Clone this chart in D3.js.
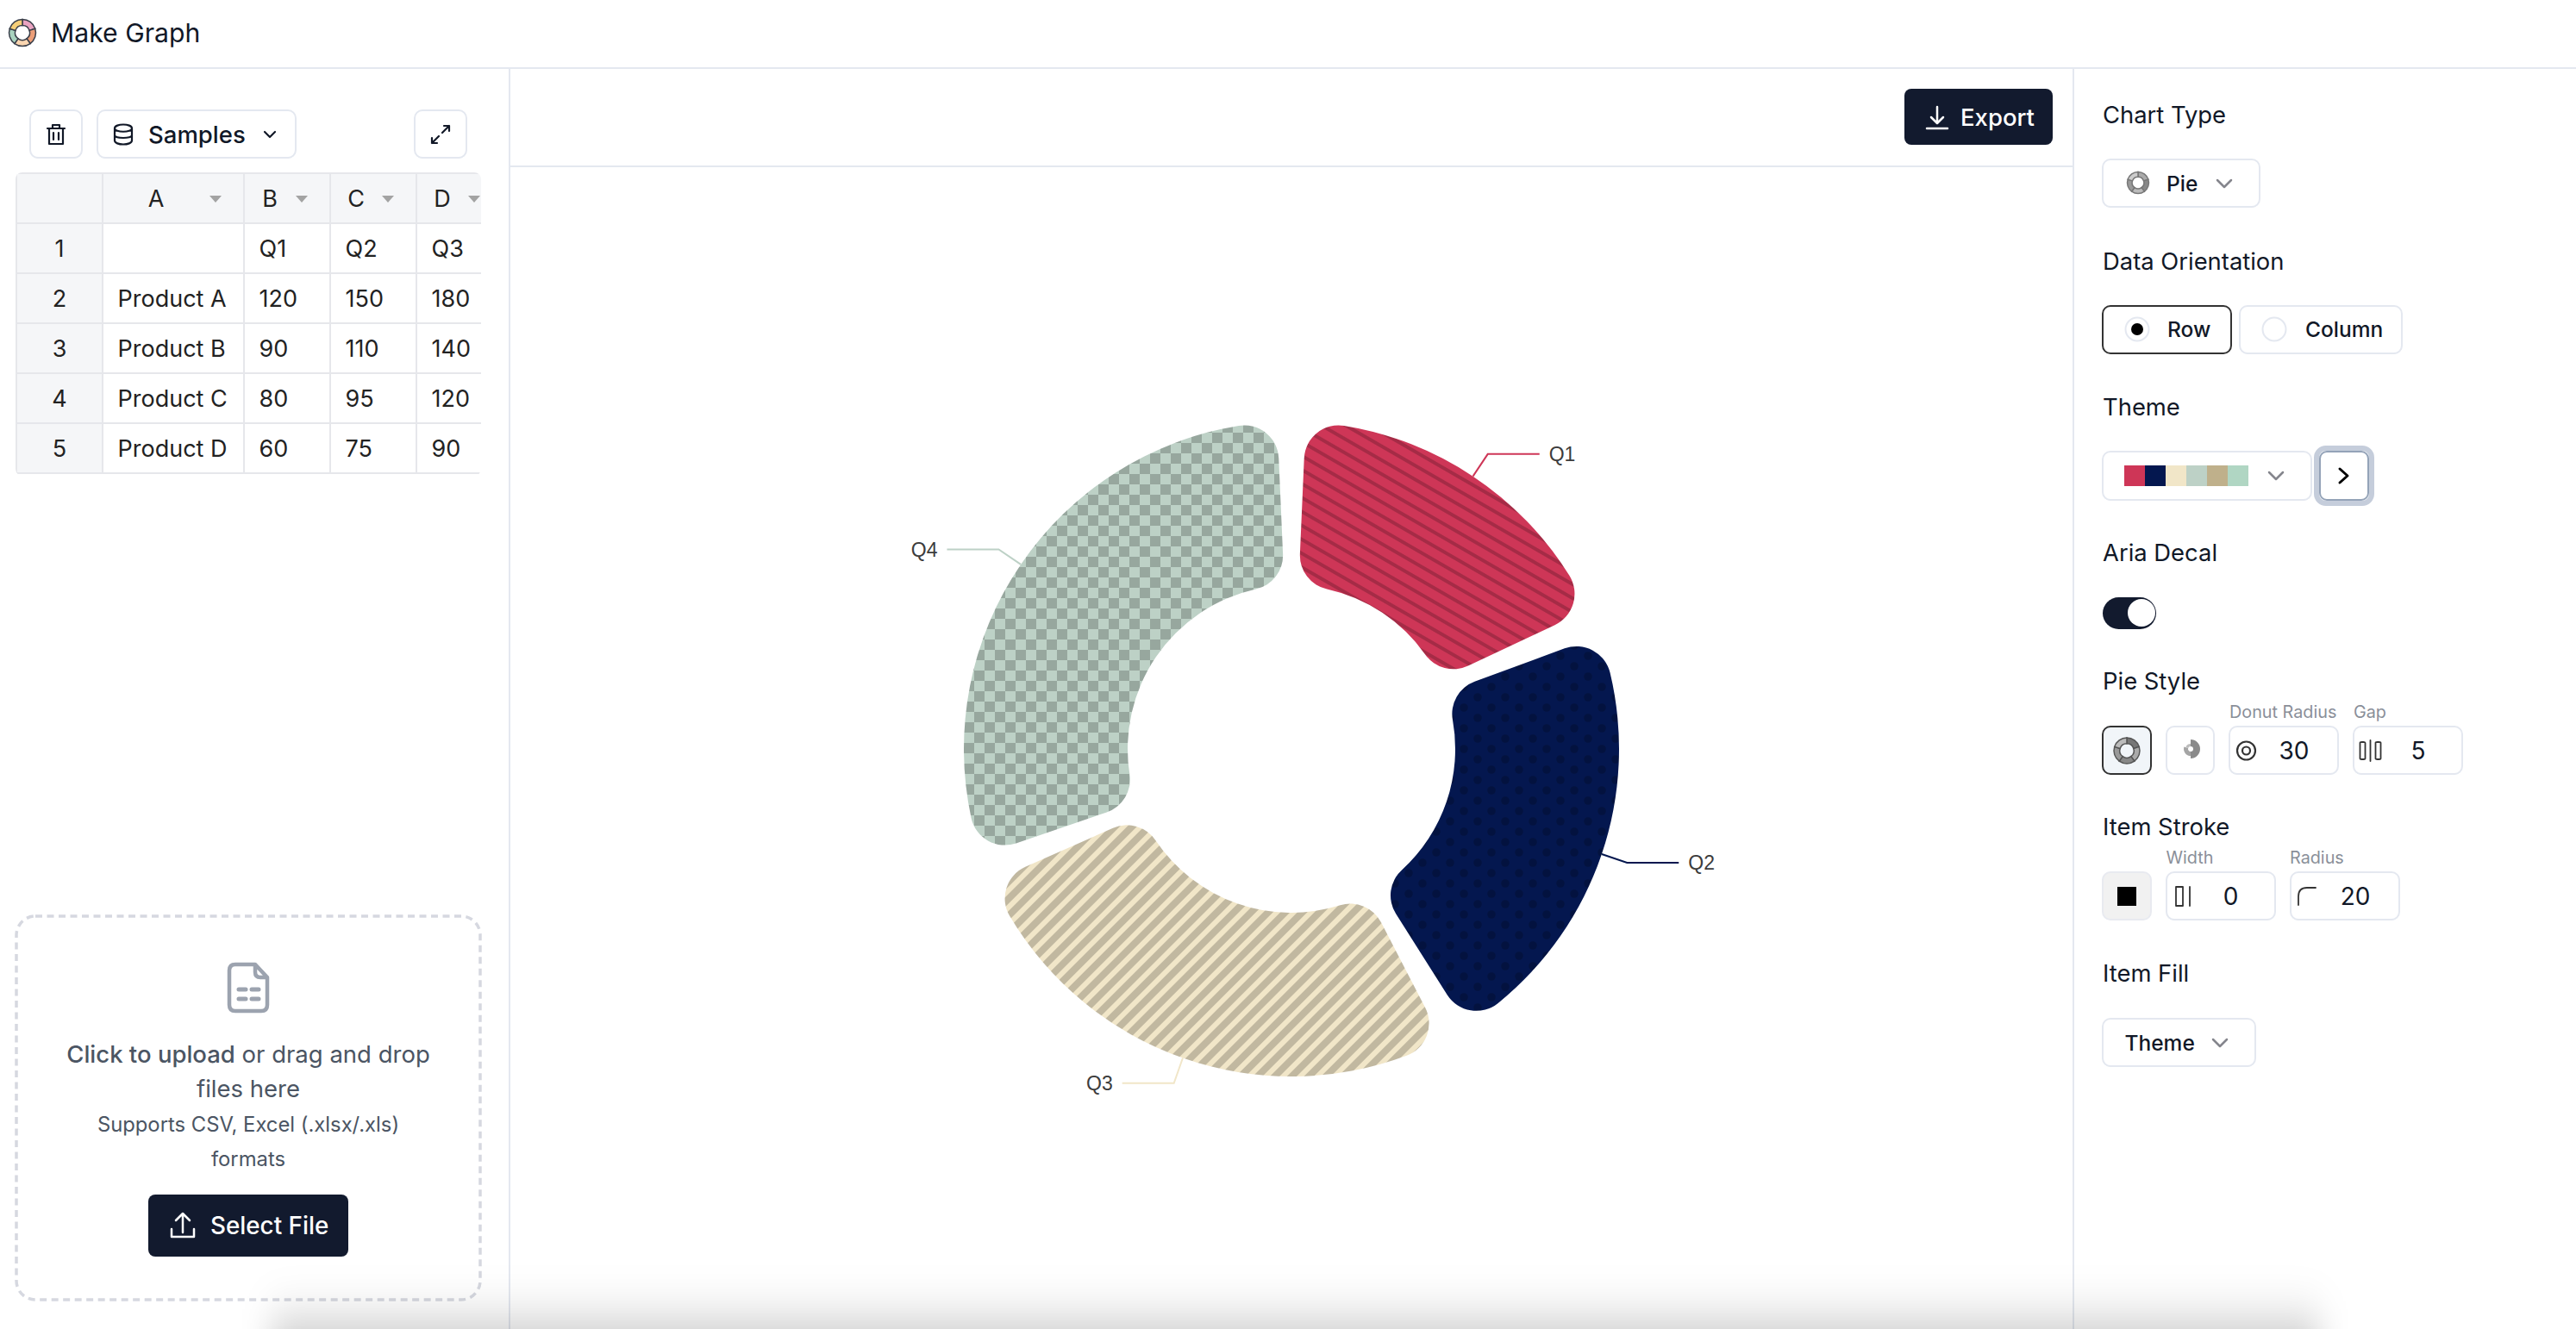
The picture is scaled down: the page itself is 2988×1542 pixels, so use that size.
<!DOCTYPE html>
<html>
<head>
<meta charset="utf-8">
<title>Make Graph</title>
<script src="https://cdn.jsdelivr.net/npm/d3@7/dist/d3.min.js"></script>
<style>
  html, body { margin: 0; padding: 0; background: #fff; overflow: hidden; }
  svg { display: block; font-family: Inter, "Noto Sans", sans-serif; }
</style>
</head>
<body>
<svg id="page" width="2988" height="1542"></svg>
<script>
// chart values
const quarters = ['Q1', 'Q2', 'Q3', 'Q4'];
const productA = [120, 150, 180, 205];
const sliceColors = ['#ce3657', '#04174f', '#f1e6c8', '#bdd1c6'];
const themeSwatches = ['#ce3657', '#04174f', '#f1e6c8', '#bdd1c6', '#bfb08b', '#b0d6c3'];

// sheet values
const sheetColumns = ['A', 'B', 'C', 'D'];
const sheetRows = [
  ['', 'Q1', 'Q2', 'Q3'],
  ['Product A', '120', '150', '180'],
  ['Product B', '90', '110', '140'],
  ['Product C', '80', '95', '120'],
  ['Product D', '60', '75', '90']
];

const INK = '#111827';
const DARK = '#121a2e';
const LINE = '#e4e8f0';

const svg = d3.select('#page');
const defs = svg.append('defs');

function rect(x0, y0, x1, y1, opts = {}) {
  return svg.append('rect')
    .attr('x', x0).attr('y', y0)
    .attr('width', x1 - x0).attr('height', y1 - y0)
    .attr('rx', opts.r || 0)
    .attr('fill', opts.fill || 'none')
    .attr('stroke', opts.stroke || 'none')
    .attr('stroke-width', opts.sw || 2);
}

function text(str, x, y, size, opts = {}) {
  return svg.append('text')
    .attr('x', x).attr('y', y)
    .attr('dy', '0.36em')
    .attr('font-size', size)
    .attr('font-weight', opts.weight || 400)
    .attr('fill', opts.fill || INK)
    .attr('text-anchor', opts.anchor || 'start')
    .attr('font-family', opts.family || null)
    .text(str);
}

function icon(d, x, y, opts = {}) {
  return svg.append('path')
    .attr('transform', `translate(${x},${y})`)
    .attr('d', d)
    .attr('fill', opts.fill || 'none')
    .attr('stroke', opts.stroke || INK)
    .attr('stroke-width', opts.sw || 2.5)
    .attr('stroke-linecap', 'round')
    .attr('stroke-linejoin', 'round');
}

function field(x0, y0, x1, y1) {
  rect(x0, y0 + 1, x1, y1 + 1, { r: 9, fill: '#e9edf4' });
  return rect(x0, y0, x1, y1, { r: 9, fill: '#fff', stroke: LINE });
}

const chevronDown = 'M-8,-4 L0,4 L8,-4';

function ringIcon(cx, cy, r, colors, stroke) {
  const g = svg.append('g').attr('transform', `translate(${cx},${cy})`);
  const arc = d3.arc().innerRadius(r * 0.55).outerRadius(r);
  const slices = d3.pie().sort(null).value(1)(colors);
  g.selectAll('path').data(slices).join('path')
    .attr('d', arc)
    .attr('fill', d => d.data)
    .attr('stroke', stroke)
    .attr('stroke-width', 1.5);
}

// ---- frame ----
rect(0, 78, 2988, 80, { fill: LINE });
rect(590, 80, 592, 1542, { fill: LINE });
rect(2404, 80, 2406, 1542, { fill: LINE });
rect(592, 192, 2404, 194, { fill: LINE });

ringIcon(26, 38, 15.5, ['#e9a3c0', '#ec9e78', '#f9d5b0', '#a9d3bf', '#f5ce78'], '#3a3f4a');
text('Make Graph', 59, 38, 30.2);

// ---- left toolbar ----
field(35, 128, 95, 183);
icon('M-10,-7 H10 M-4,-7 V-11 H4 V-7 M-8,-7 V11 H8 V-7 M-3,-2 V6 M3,-2 V6', 65, 156, { sw: 2.2 });
field(113, 128, 343, 183);
icon('M-10,-7 C-10,-13 10,-13 10,-7 V7 C10,13 -10,13 -10,7 Z M-10,-7 C-10,-2 10,-2 10,-7 M-10,1 C-10,5 10,5 10,1', 143, 156, { sw: 2.2 });
text('Samples', 172, 156, 27.5, { weight: 500 });
icon('M-6,-3 L0,3 L6,-3', 313, 156, { sw: 2.2 });
field(481, 128, 541, 183);
icon('M2,-2 L10,-10 M4,-10 H10 V-4 M-2,2 L-10,10 M-10,4 V10 H-4', 511, 156, { sw: 2.2 });

// ---- sheet ----
const colEdges = [19, 119, 283, 383, 483, 583];
const rowEdges = [201, 259, 317, 375, 433, 491, 549];
const sheetRight = 558;

defs.append('clipPath').attr('id', 'sheet-clip')
  .append('rect').attr('x', 18).attr('y', 200).attr('width', sheetRight - 18).attr('height', 352).attr('rx', 8);

const sheet = svg.append('g').attr('clip-path', 'url(#sheet-clip)');
sheet.append('rect').attr('x', 19).attr('y', 201).attr('width', sheetRight).attr('height', 58).attr('fill', '#f5f6f8');
sheet.append('rect').attr('x', 19).attr('y', 201).attr('width', 100).attr('height', 348).attr('fill', '#f5f6f8');
sheet.selectAll('.row-line').data(rowEdges).join('line')
  .attr('x1', 19).attr('x2', sheetRight).attr('y1', d => d).attr('y2', d => d)
  .attr('stroke', '#e6e7eb').attr('stroke-width', 2);
sheet.selectAll('.col-line').data(colEdges).join('line')
  .attr('x1', d => d).attr('x2', d => d).attr('y1', 201).attr('y2', 549)
  .attr('stroke', '#e6e7eb').attr('stroke-width', 2);

sheet.selectAll('.col-head').data(sheetColumns).join('text')
  .attr('x', (d, i) => i === 0 ? 181 : colEdges[i + 1] + 30)
  .attr('y', 230).attr('dy', '0.36em')
  .attr('text-anchor', 'middle')
  .attr('font-size', 27).attr('fill', '#222').text(d => d);
sheet.selectAll('.col-caret').data(sheetColumns).join('path')
  .attr('transform', (d, i) => `translate(${colEdges[i + 2] - 33},231)`)
  .attr('d', 'M-7,-4 H7 L0,4 Z')
  .attr('fill', '#a3a3a3');

sheetRows.forEach((row, r) => {
  const cy = (rowEdges[r + 1] + rowEdges[r + 2]) / 2;
  sheet.append('text')
    .attr('x', 69).attr('y', cy).attr('dy', '0.36em')
    .attr('text-anchor', 'middle')
    .attr('font-size', 27).attr('fill', '#222').text(r + 1);
  row.forEach((cell, c) => {
    sheet.append('text')
      .attr('x', colEdges[c + 1] + 17.5).attr('y', cy).attr('dy', '0.36em')
      .attr('font-size', 27).attr('fill', '#222').text(cell);
  });
});

// ---- upload box ----
rect(19, 1063, 557, 1508, { r: 22, stroke: '#d6d8e0', sw: 3.5 }).attr('stroke-dasharray', '8 5.5');
icon('M-22,-20 Q-22,-27 -15,-27 H8 L22,-12 V20 Q22,27 15,27 H-15 Q-22,27 -22,20 Z M8,-27 V-18 Q8,-12 14,-12 H22', 288, 1146, { stroke: '#9ca3af', sw: 4.5 });
icon('M-11,-3 H-3 M4,-3 H12 M-11,8 H-3 M4,8 H12', 288, 1151, { stroke: '#9ca3af', sw: 5 });

const uploadLine = text('', 288, 1223, 27.5, { anchor: 'middle', fill: '#4b5563' });
uploadLine.append('tspan').attr('font-weight', 500).text('Click to upload');
uploadLine.append('tspan').text(' or drag and drop');
text('files here', 288, 1263, 27.5, { anchor: 'middle', fill: '#4b5563' });
text('Supports CSV, Excel (.xlsx/.xls)', 288, 1304, 23.8, { anchor: 'middle', fill: '#4b5563' });
text('formats', 288, 1344, 23.8, { anchor: 'middle', fill: '#4b5563' });

rect(172, 1386, 404, 1458, { r: 8, fill: DARK });
icon('M0,8 V-13 M-8,-6 L0,-14 L8,-6 M-13,4 V13 H13 V4', 212, 1422, { stroke: '#fff' });
text('Select File', 244, 1422, 27.8, { weight: 500, fill: '#fff' });

// ---- export button ----
rect(2209, 103, 2381, 168, { r: 8, fill: DARK });
icon('M0,-12 V6 M-7,0 L0,7 L7,0 M-12,13 H12', 2247, 136, { stroke: '#fff' });
text('Export', 2274, 136, 27.5, { weight: 500, fill: '#fff' });

// ---- decal patterns, one per slice ----
function pattern(id, w, h, transform, color) {
  const p = defs.append('pattern')
    .attr('id', id)
    .attr('patternUnits', 'userSpaceOnUse')
    .attr('width', w).attr('height', h)
    .attr('patternTransform', transform);
  p.append('rect').attr('width', w).attr('height', h).attr('fill', color);
  return p;
}
const decal = 'rgba(0,0,0,0.2)';

const stripes = pattern('decal-0', 14, 14, 'translate(1513.3,526.7) rotate(30)', sliceColors[0]);
stripes.append('rect').attr('width', 14).attr('height', 2).attr('fill', decal);
stripes.append('rect').attr('y', 12).attr('width', 14).attr('height', 2).attr('fill', decal);

const dots = pattern('decal-1', 32, 24, 'translate(1712,822)', sliceColors[1]);
dots.append('circle').attr('cx', 8).attr('cy', 6).attr('r', 4.8).attr('fill', decal);
dots.append('circle').attr('cx', 24).attr('cy', 18).attr('r', 4.8).attr('fill', decal);

const wide = pattern('decal-2', 14, 14, 'translate(1300,1133.7) rotate(-45)', sliceColors[2]);
wide.append('rect').attr('width', 14).attr('height', 8).attr('fill', decal);

const checks = pattern('decal-3', 24, 24, 'translate(1300,545)', sliceColors[3]);
checks.append('rect').attr('width', 12).attr('height', 12).attr('fill', decal);
checks.append('rect').attr('x', 12).attr('y', 12).attr('width', 12).attr('height', 12).attr('fill', decal);

// ---- donut ----
const cx = 1498, cy = 869;
const outer = 380, inner = 190;
const gap = 5 * Math.PI / 180;

const pie = d3.pie().sort(null).startAngle(0).endAngle(2 * Math.PI).padAngle(gap);
const arcs = pie(productA).map((d, i) => ({ ...d, name: quarters[i], index: i }));

// the gap is taken out of the angles here, so the arc itself gets no padding
const arc = d3.arc()
  .innerRadius(inner)
  .outerRadius(outer)
  .cornerRadius(40)
  .padAngle(0)
  .startAngle(d => d.startAngle + gap / 2)
  .endAngle(d => d.endAngle - gap / 2);

const chart = svg.append('g').attr('class', 'chart');
const pieG = chart.append('g').attr('transform', `translate(${cx},${cy})`);

// patterns sit in page space, so the slices go on the page group with a transform on each path
chart.selectAll('path.slice').data(arcs).join('path')
  .attr('class', 'slice')
  .attr('d', arc)
  .attr('fill', d => `url(#decal-${d.index})`)
  .attr('transform', `translate(${cx},${cy})`);

// leader lines and labels follow each slice's mid angle
const elbowLen = 31, tailLen = 60, labelGap = 11;
const polar = (r, a) => [Math.sin(a) * r, -Math.cos(a) * r];
const midAngle = d => (d.startAngle + d.endAngle) / 2;
const side = d => (midAngle(d) < Math.PI ? 1 : -1);

pieG.selectAll('path.leader').data(arcs).join('path')
  .attr('class', 'leader')
  .attr('fill', 'none')
  .attr('stroke', d => sliceColors[d.index])
  .attr('stroke-width', 2)
  .attr('d', d => {
    const a = polar(outer, midAngle(d));
    const b = polar(outer + elbowLen, midAngle(d));
    const c = [b[0] + side(d) * tailLen, b[1]];
    return d3.line()([a, b, c]);
  });

pieG.selectAll('text.label').data(arcs).join('text')
  .attr('class', 'label')
  .attr('x', d => polar(outer + elbowLen, midAngle(d))[0] + side(d) * (tailLen + labelGap))
  .attr('y', d => polar(outer + elbowLen, midAngle(d))[1])
  .attr('dy', '0.36em')
  .attr('text-anchor', d => side(d) > 0 ? 'start' : 'end')
  .attr('font-family', '"Liberation Sans", sans-serif')
  .attr('font-size', 23)
  .attr('fill', '#3c3c3c')
  .text(d => d.name);

// ---- settings panel ----
const px = 2439;
const headSize = 27.4;

text('Chart Type', px, 133, headSize);
field(px, 185, 2621, 240);
ringIcon(2480, 212, 12.5, ['#aaa', '#888', '#bbb', '#999', '#ccc'], '#777');
text('Pie', 2513, 213, 24.5, { weight: 500 });
icon(chevronDown, 2580, 213, { stroke: '#85868d', sw: 2.5 });

text('Data Orientation', px, 303, headSize);
rect(px, 355, 2588, 410, { r: 9, fill: '#fff', stroke: '#333' });
svg.append('circle').attr('cx', 2479).attr('cy', 382).attr('r', 13.5).attr('fill', '#fff').attr('stroke', LINE).attr('stroke-width', 2);
svg.append('circle').attr('cx', 2479).attr('cy', 382).attr('r', 7).attr('fill', '#000');
text('Row', 2514, 382, 24.5, { weight: 500 });
field(2598, 355, 2786, 410);
svg.append('circle').attr('cx', 2638).attr('cy', 382).attr('r', 13.5).attr('fill', '#fff').attr('stroke', LINE).attr('stroke-width', 2);
text('Column', 2674, 382, 24.5, { weight: 500 });

text('Theme', px, 472, headSize);
field(px, 524, 2681, 580);
svg.selectAll('rect.swatch').data(themeSwatches).join('rect')
  .attr('class', 'swatch')
  .attr('x', (d, i) => 2464 + i * 24).attr('y', 540)
  .attr('width', 24).attr('height', 24)
  .attr('fill', d => d);
icon(chevronDown, 2640, 552, { stroke: '#85868d', sw: 2.5 });
rect(2687, 520, 2751, 584, { r: 11, stroke: '#c5cddb', sw: 6 });
rect(2691, 524, 2747, 580, { r: 8, fill: '#fff', stroke: '#94a3b8' });
icon('M-4,-8 L5,0 L-4,8', 2718, 552, { stroke: '#000', sw: 3 });

text('Aria Decal', px, 641, headSize);
rect(px, 693, 2501, 730, { r: 18.5, fill: DARK });
svg.append('circle').attr('cx', 2484).attr('cy', 711).attr('r', 16).attr('fill', '#fff');

text('Pie Style', px, 790, headSize);
text('Donut Radius', 2586, 826, 19.8, { fill: '#8a8f99' });
text('Gap', 2730, 826, 19.8, { fill: '#8a8f99' });
rect(px, 843, 2495, 898, { r: 9, fill: '#f1f5f9', stroke: '#333' });
ringIcon(2467, 871, 15, ['#777', '#aaa', '#888', '#999', '#bbb'], '#555');
field(2513, 843, 2568, 898);
const roseArc = d3.arc().innerRadius(3);
svg.append('g').attr('transform', 'translate(2541,869)')
  .selectAll('path').data(d3.pie().sort(null).startAngle(0).endAngle(2 * Math.PI)([5, 3, 2])).join('path')
  .attr('d', (d, i) => roseArc.outerRadius([11, 8, 6][i])(d))
  .attr('fill', (d, i) => ['#8a8a8a', '#a5a5a5', '#bdbdbd'][i]);
field(2586, 843, 2712, 898);
svg.append('circle').attr('cx', 2605.5).attr('cy', 871).attr('r', 10.5).attr('fill', 'none').attr('stroke', '#333').attr('stroke-width', 2.2);
svg.append('circle').attr('cx', 2605.5).attr('cy', 871).attr('r', 4.5).attr('fill', 'none').attr('stroke', '#333').attr('stroke-width', 2.2);
text('30', 2661, 871, 28, { anchor: 'middle' });
field(2730, 843, 2856, 898);
icon('M-12,-9 Q-12,-10 -10,-10 H-8 Q-6,-10 -6,-9 V9 Q-6,10 -8,10 H-10 Q-12,10 -12,9 Z M6,-9 Q6,-10 8,-10 H10 Q12,-10 12,-9 V9 Q12,10 10,10 H8 Q6,10 6,9 Z M0,-12 V12', 2749.5, 871, { stroke: '#333', sw: 1.8 });
text('5', 2805, 871, 28, { anchor: 'middle' });

text('Item Stroke', px, 959, headSize);
text('Width', 2512.5, 995, 19.8, { fill: '#8a8f99' });
text('Radius', 2656, 995, 19.8, { fill: '#8a8f99' });
rect(px, 1012, 2495, 1067, { r: 9, fill: '#f1f1f1', stroke: '#e8eaf0' });
rect(2456, 1029, 2478, 1051, { fill: '#000' });
field(2513, 1012, 2639, 1067);
icon('M-9,-11 H-1 V11 H-9 Z M7,-11 V11', 2533, 1040, { stroke: '#333', sw: 1.8 });
text('0', 2587.5, 1040, 28, { anchor: 'middle' });
field(2657, 1012, 2783, 1067);
icon('M-10,10 V0 Q-10,-10 0,-10 H10', 2676, 1040, { stroke: '#333', sw: 1.8 });
text('20', 2732, 1040, 28, { anchor: 'middle' });

text('Item Fill', px, 1129, headSize);
field(px, 1182, 2616, 1237);
text('Theme', 2464.5, 1210, 24.5, { weight: 500 });
icon(chevronDown, 2575, 1210, { stroke: '#85868d', sw: 2.5 });

// ---- soft shadow along the bottom edge of the window ----
const blur = defs.append('filter').attr('id', 'bottom-blur')
  .attr('filterUnits', 'userSpaceOnUse')
  .attr('x', 100).attr('y', 1300).attr('width', 2800).attr('height', 500);
blur.append('feGaussianBlur').attr('stdDeviation', '18 34');
svg.append('rect')
  .attr('x', 315).attr('y', 1542)
  .attr('width', 2375).attr('height', 160)
  .attr('fill', '#000').attr('fill-opacity', 0.27)
  .attr('filter', 'url(#bottom-blur)');
</script>
</body>
</html>
